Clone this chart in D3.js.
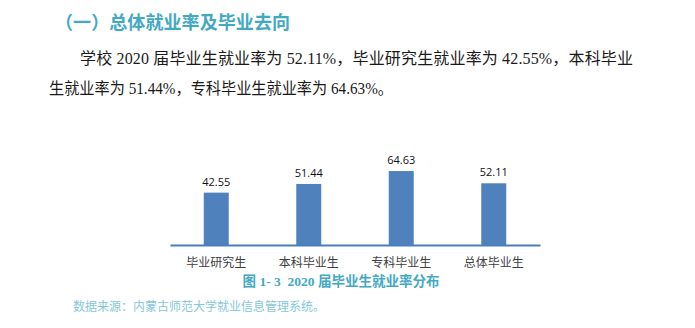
<!DOCTYPE html>
<html>
<head>
<meta charset="utf-8">
<script src="https://cdn.jsdelivr.net/npm/d3@7"></script>
<style>
  html, body { margin: 0; padding: 0; background: #ffffff; }
  svg { display: block; }
</style>
</head>
<body>
<svg id="chart" width="695" height="328"></svg>
<script>
// Employment rate by graduate group, class of 2020 (%)
const categories = ["毕业研究生", "本科毕业生", "专科毕业生", "总体毕业生"];
const values = [42.55, 51.44, 64.63, 52.11];

const headingText = "（一）总体就业率及毕业去向";
const paragraphLines = [
  "学校 2020 届毕业生就业率为 52.11%，毕业研究生就业率为 42.55%，本科毕业",
  "生就业率为 51.44%，专科毕业生就业率为 64.63%。"
];
const captionText = "图 1- 3  2020 届毕业生就业率分布";
const sourceText = "数据来源：内蒙古师范大学就业信息管理系统。";

const svg = d3.select("#chart");
const teal = "#42a9c3";
const sansCJK = "'Noto Sans CJK SC', sans-serif";
const serifMix = "'Liberation Serif', 'Noto Sans CJK SC', serif";

// Section heading
svg.append("text")
  .attr("x", 55).attr("y", 29)
  .attr("font-family", sansCJK)
  .attr("font-size", 18).attr("font-weight", "bold")
  .attr("fill", teal)
  .attr("textLength", 235).attr("lengthAdjust", "spacing")
  .text(headingText);

// Body paragraph
svg.append("text")
  .attr("x", 80).attr("y", 64)
  .attr("font-family", serifMix).attr("font-size", 16)
  .attr("fill", "#1a1a1a")
  .attr("textLength", 553).attr("lengthAdjust", "spacing")
  .text(paragraphLines[0]);
svg.append("text")
  .attr("x", 49).attr("y", 94)
  .attr("font-family", serifMix).attr("font-size", 16)
  .attr("fill", "#1a1a1a")
  .attr("textLength", 344).attr("lengthAdjust", "spacingAndGlyphs")
  .text(paragraphLines[1]);

// Bar chart
const baseY = 245;
const x = d3.scaleBand()
  .domain(categories)
  .range([170, 540])
  .paddingInner(0.73)
  .paddingOuter(0.365);

const y = d3.scaleLinear()
  .domain([-11, 65.7])
  .range([baseY, 170]);

svg.append("g")
  .selectAll("rect")
  .data(values)
  .join("rect")
  .attr("x", (d, i) => x(categories[i]))
  .attr("y", d => y(d))
  .attr("width", x.bandwidth())
  .attr("height", d => baseY - y(d))
  .attr("fill", "#4f81bd");

svg.append("g")
  .selectAll("text")
  .data(values)
  .join("text")
  .attr("x", (d, i) => x(categories[i]) + x.bandwidth() / 2)
  .attr("y", d => y(d) - 7)
  .attr("text-anchor", "middle")
  .attr("font-family", "'Open Sans', sans-serif")
  .attr("font-size", 11)
  .attr("fill", "#111")
  .text(d => d.toFixed(2));

const axis = svg.append("g")
  .attr("transform", `translate(0,${baseY})`)
  .call(d3.axisBottom(x).tickSize(0).tickSizeOuter(0).tickPadding(13));
axis.select(".domain").attr("stroke", "#4a7ebb").attr("stroke-width", 2);
axis.selectAll("text")
  .attr("font-family", sansCJK)
  .attr("font-size", 12)
  .attr("fill", "#404040");

// Figure caption
svg.append("text")
  .attr("x", 341).attr("y", 286)
  .attr("text-anchor", "middle")
  .attr("font-family", "'Liberation Serif', 'Noto Sans CJK SC', serif")
  .attr("font-size", 13.5).attr("font-weight", "bold")
  .attr("fill", teal)
  .attr("xml:space", "preserve")
  .text(captionText);

// Data source note
svg.append("text")
  .attr("x", 73).attr("y", 311)
  .attr("font-family", sansCJK)
  .attr("font-size", 12)
  .attr("fill", "#84c7d8")
  .text(sourceText);
</script>
</body>
</html>
